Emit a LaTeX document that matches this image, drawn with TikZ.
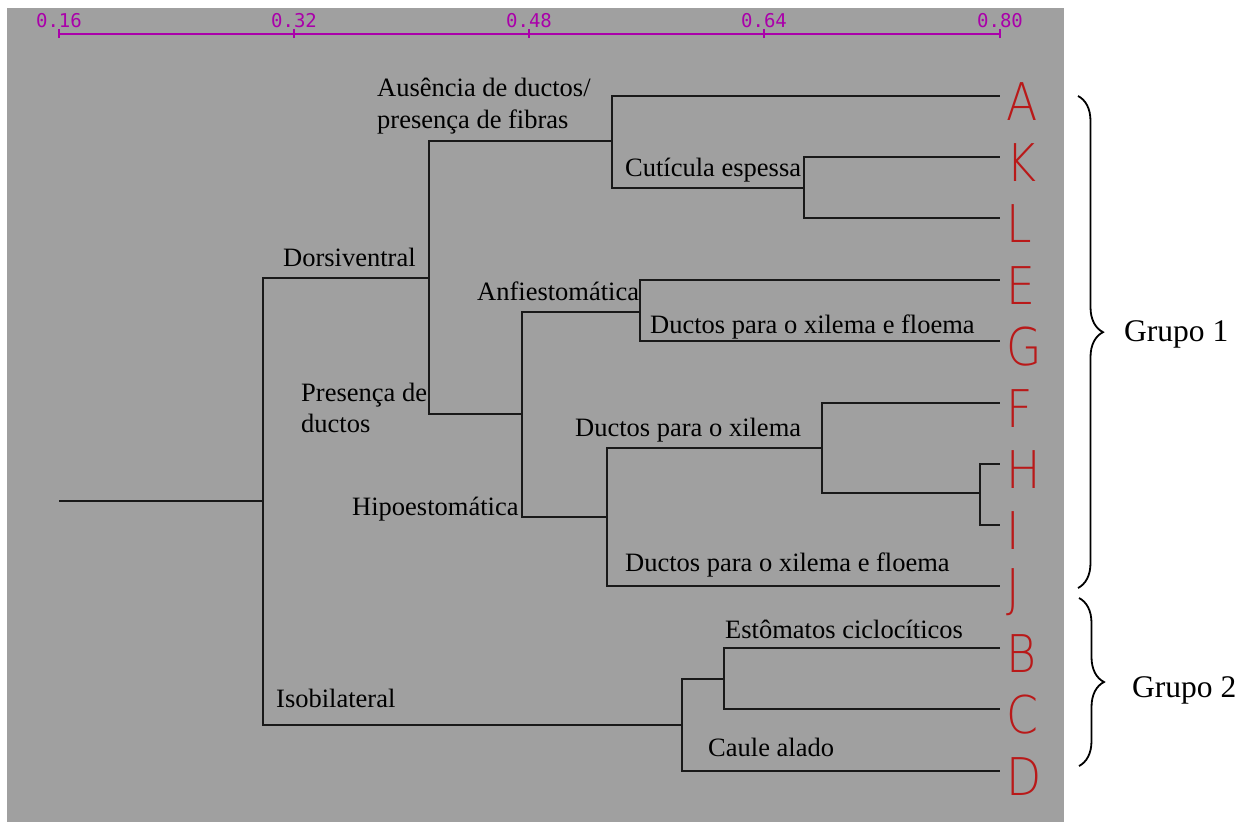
\documentclass[tikz,border=0pt]{standalone}
\usepackage{fontspec}
\setmainfont{Liberation Serif}
\IfFontExistsTF{DejaVu Sans ExtraLight}
  {\newfontfamily\leaffont{DejaVu Sans ExtraLight}[FakeStretch=0.88]}
  {\newfontfamily\leaffont{Liberation Sans}[FakeStretch=0.72]}
\newfontfamily\axisfont{DejaVu Sans Mono}
\usetikzlibrary{decorations.pathreplacing}
\definecolor{bggray}{RGB}{160,160,160}
\definecolor{leafred}{RGB}{185,25,25}
\definecolor{axismag}{RGB}{170,0,170}
\definecolor{branch}{RGB}{25,25,25}
\tikzset{
  branchline/.style={draw=branch, line width=2.4pt},
  axisline/.style={draw=axismag, line width=2pt},
  axislabel/.style={anchor=base, inner sep=0pt, text=axismag, font=\axisfont\fontsize{19}{19}\selectfont},
  leaf/.style={anchor=west, inner sep=0pt, text=leafred, font=\leaffont\fontsize{52}{52}\selectfont},
  lbl/.style={anchor=base west, inner sep=0pt, font=\fontsize{26.5}{31}\selectfont},
  grp/.style={anchor=base west, inner sep=0pt, font=\fontsize{31.5}{36}\selectfont},
  bracestyle/.style={draw=black, line width=1.8pt, decorate, decoration={brace, amplitude=25pt}}
}
\begin{document}
\begin{tikzpicture}[x=1pt, y=-1pt]
\useasboundingbox (0,0) rectangle (1254,822);
\fill[white] (0,0) rectangle (1254,822);
\fill[bggray] (7,8) rectangle (1064,822);

% axis
\coordinate (t0) at (59,34);
\coordinate (t1) at (294,34);
\coordinate (t2) at (529,34);
\coordinate (t3) at (764,34);
\coordinate (t4) at (1000,34);
\draw[axisline] (t0) -- (t4);
\foreach \t in {t0,t1,t2,t3,t4}{
  \draw[axisline] ([yshift=-4pt]\t) -- ([yshift=5pt]\t);
}
\node[axislabel] (a0) at (59,27) {0.16};
\node[axislabel] (a1) at (294,27) {0.32};
\node[axislabel] (a2) at (529,27) {0.48};
\node[axislabel] (a3) at (764,27) {0.64};
\node[axislabel] (a4) at (1000,27) {0.80};

% internal nodes
\coordinate (root) at (59,501);
\coordinate (n1) at (263,501);
\coordinate (n2) at (429,278);
\coordinate (n3) at (612,141);
\coordinate (n4) at (804,188);
\coordinate (n5) at (522,414);
\coordinate (n6) at (640,312);
\coordinate (n7) at (607,517);
\coordinate (n8) at (822,448);
\coordinate (n9) at (980,493);
\coordinate (n10) at (682,725);
\coordinate (n11) at (724,679);

% leaf ends
\coordinate (eA) at (1000,96);
\coordinate (eK) at (1000,157);
\coordinate (eL) at (1000,218);
\coordinate (eE) at (1000,280);
\coordinate (eG) at (1000,341);
\coordinate (eF) at (1000,403);
\coordinate (eH) at (1000,464);
\coordinate (eI) at (1000,525);
\coordinate (eJ) at (1000,586);
\coordinate (eB) at (1000,648);
\coordinate (eC) at (1000,709);
\coordinate (eD) at (1000,771);

% leaf letters
\foreach \l/\y in {A/96,K/157,L/218,E/280,G/341,F/403,H/464,I/525,J/586,B/648,C/709,D/771}{
  \node[leaf] (leaf\l) at (1006,\y+6) {\l};
}

% branches
\draw[branchline] (root) -- (n1);
\draw[branchline] (n1) |- (n2);
\draw[branchline] (n1) |- (n10);
\draw[branchline] (n2) |- (n3);
\draw[branchline] (n2) |- (n5);
\draw[branchline] (n3) |- (eA);
\draw[branchline] (n3) |- (n4);
\draw[branchline] (n4) |- (eK);
\draw[branchline] (n4) |- (eL);
\draw[branchline] (n5) |- (n6);
\draw[branchline] (n5) |- (n7);
\draw[branchline] (n6) |- (eE);
\draw[branchline] (n6) |- (eG);
\draw[branchline] (n7) |- (n8);
\draw[branchline] (n7) |- (eJ);
\draw[branchline] (n8) |- (eF);
\draw[branchline] (n8) |- (n9);
\draw[branchline] (n9) |- (eH);
\draw[branchline] (n9) |- (eI);
\draw[branchline] (n10) |- (n11);
\draw[branchline] (n10) |- (eD);
\draw[branchline] (n11) |- (eB);
\draw[branchline] (n11) |- (eC);

% labels
\node[lbl] (l1a) at (377,96) {Ausência de ductos/};
\node[lbl] (l1b) at (377,128) {presença de fibras};
\node[lbl] (l2) at (283,266) {Dorsiventral};
\node[lbl] (l3) at (625,176) {Cutícula espessa};
\node[lbl] (l4) at (477,300) {Anfiestomática};
\node[lbl] (l5) at (650,333) {Ductos para o xilema e floema};
\node[lbl] (l6a) at (301,401) {Presença de};
\node[lbl] (l6b) at (301,432) {ductos};
\node[lbl] (l7) at (352,515) {Hipoestomática};
\node[lbl] (l8) at (575,436) {Ductos para o xilema};
\node[lbl] (l9) at (625,571) {Ductos para o xilema e floema};
\node[lbl] (l10) at (276,707) {Isobilateral};
\node[lbl] (l11) at (725,638) {Estômatos ciclocíticos};
\node[lbl] (l12) at (708,756) {Caule alado};

% braces
\coordinate (b1s) at (1078,96);
\coordinate (b1e) at (1078,588);
\coordinate (b2s) at (1079,598);
\coordinate (b2e) at (1079,766);
\draw[bracestyle, decoration={aspect=0.48}] (b1s) -- (b1e);
\draw[bracestyle] (b2s) -- (b2e);
\node[grp] (g1) at (1124,341) {Grupo 1};
\node[grp] (g2) at (1132,697) {Grupo 2};
\end{tikzpicture}
\end{document}
